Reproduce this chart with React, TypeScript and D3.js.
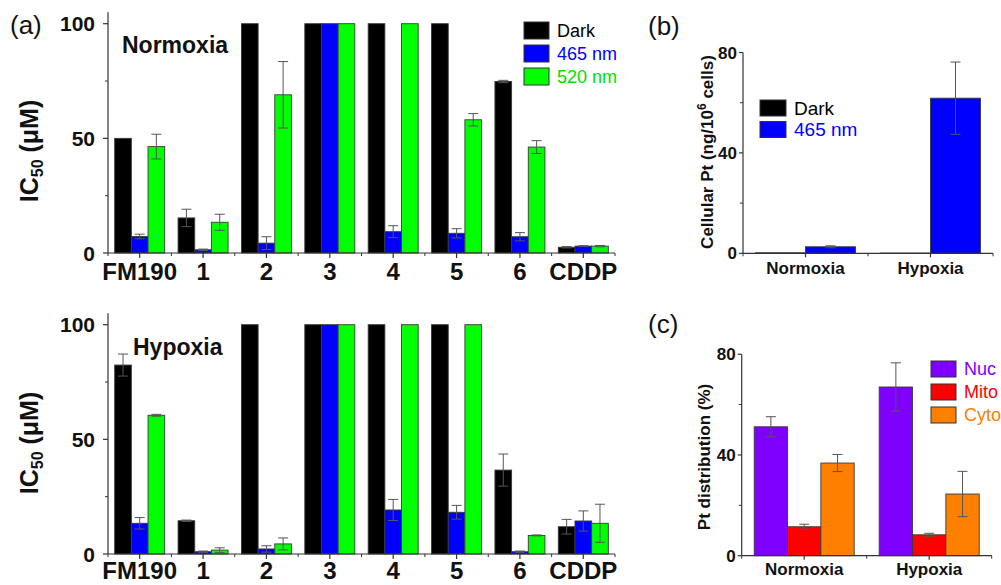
import React from "react";
import * as d3 from "d3";

// ---------- Panel (a) data ----------
const compounds = ["FM190", "1", "2", "3", "4", "5", "6", "CDDP"];
const lightSeries = ["Dark", "465 nm", "520 nm"];
const lightColors = ["#000000", "#0000ff", "#00ff00"];
const lightTextColors = ["#000000", "#0000ff", "#00e000"];

const normDark = [50, 15.3, 100, 100, 100, 100, 74.8, 2.5];
const normDarkErr = [0, 3.8, 0, 0, 0, 0, 0.5, 0.3];
const norm465 = [7.2, 1.4, 4.3, 100, 9.3, 8.6, 7.1, 3.0];
const norm465Err = [1.0, 0.3, 2.8, 0, 2.6, 2.0, 1.8, 0.2];
const norm520 = [46.4, 13.4, 69, 100, 100, 58.1, 46.2, 3.0];
const norm520Err = [5.4, 3.5, 14.5, 0, 0, 2.7, 2.8, 0.3];

const hypDark = [82.4, 14.5, 100, 100, 100, 100, 36.6, 11.9];
const hypDarkErr = [4.8, 0.3, 0, 0, 0, 0, 7.0, 3.2];
const hyp465 = [13.4, 1.0, 2.2, 100, 19.2, 18.2, 1.0, 14.4];
const hyp465Err = [2.5, 0.3, 1.4, 0, 4.6, 3.0, 0.3, 4.4];
const hyp520 = [60.5, 1.7, 4.4, 100, 100, 100, 8.1, 13.4];
const hyp520Err = [0.4, 1.0, 2.6, 0, 0, 0, 0.2, 8.3];

const icTicksMajor = [0, 50, 100];
const icTicksMinor = [25, 75];

// ---------- Panel (b) data ----------
const conditions = ["Normoxia", "Hypoxia"];
const uptakeSeries = ["Dark", "465 nm"];
const uptakeColors = ["#000000", "#0000ff"];
const uptakeDark = [0.2, 0.1];
const uptakeDarkErr = [0, 0];
const uptake465 = [2.6, 61.8];
const uptake465Err = [0.4, 14.4];

// ---------- Panel (c) data ----------
const fractions = ["Nuc", "Mito", "Cyto"];
const fractionColors = ["#8000ff", "#ff0000", "#ff8000"];
const distNuc = [51.2, 67.0];
const distNucErr = [4.0, 9.6];
const distMito = [11.5, 8.3];
const distMitoErr = [1.0, 0.6];
const distCyto = [36.8, 24.5];
const distCytoErr = [3.4, 9.0];

const pctTicksMajor = [0, 40, 80];
const pctTicksMinor = [20, 60];

const FONT = "'Liberation Sans', Arial, Helvetica, sans-serif";
const AXIS = "#333";
const ERR = "#555";

type PanelProps = {
  categories: string[];
  series: string[];
  colors: string[];
  values: number[][];
  errors: number[][];
  x0: number;
  x1: number;
  y0: number; // pixel at value 0
  pxPerUnit: number;
  yMax: number; // axis top value
  groupWidth: number;
  majorTicks: number[];
  minorTicks: number[];
  tickFont: number;
  tickLabelGap: number;
  catFont: number;
  catBaseline: number;
  majorLen: number;
  minorLen: number;
};

function BarPanel(p: PanelProps) {
  const x = d3.scaleBand<string>().domain(p.categories).range([p.x0, p.x1]).paddingInner(0).paddingOuter(0);
  const inner = d3
    .scaleBand<string>()
    .domain(p.series)
    .range([-p.groupWidth / 2, p.groupWidth / 2])
    .padding(0);
  const y = d3.scaleLinear().domain([0, p.yMax]).range([p.y0, p.y0 - p.yMax * p.pxPerUnit]);
  const bw = inner.bandwidth();
  const step = x.step();
  const center = (c: string) => (x(c) as number) + step / 2;
  return (
    <g>
      {/* bars */}
      {p.categories.map((c, ci) =>
        p.series.map((s, si) => {
          const v = p.values[si][ci];
          const bx = center(c) + (inner(s) as number);
          return (
            <rect
              key={`b-${ci}-${si}`}
              x={bx}
              y={y(v)}
              width={bw}
              height={Math.max(0, y(0) - y(v))}
              fill={p.colors[si]}
              stroke="#3a3a3a"
              strokeWidth={0.9}
            />
          );
        })
      )}
      {/* error bars */}
      {p.categories.map((c, ci) =>
        p.series.map((s, si) => {
          const v = p.values[si][ci];
          const e = p.errors[si][ci];
          if (!e) return null;
          const cx = center(c) + (inner(s) as number) + bw / 2;
          const hi = y(v + e);
          const lo = y(Math.max(0, v - e));
          return (
            <g key={`e-${ci}-${si}`} stroke={ERR} strokeWidth={1}>
              <line x1={cx} x2={cx} y1={hi} y2={lo} />
              <line x1={cx - 5} x2={cx + 5} y1={hi} y2={hi} />
              <line x1={cx - 5} x2={cx + 5} y1={lo} y2={lo} />
            </g>
          );
        })
      )}
      {/* axes */}
      <line x1={p.x0} x2={p.x0} y1={y(0)} y2={y(p.yMax)} stroke={AXIS} strokeWidth={1.2} />
      <line x1={p.x0} x2={p.x1} y1={y(0)} y2={y(0)} stroke={AXIS} strokeWidth={1.2} />
      {p.majorTicks.map((t) => (
        <g key={`yt-${t}`}>
          <line x1={p.x0 - p.majorLen} x2={p.x0} y1={y(t)} y2={y(t)} stroke={AXIS} strokeWidth={1.2} />
          <text
            x={p.x0 - p.tickLabelGap}
            y={y(t)}
            dy="0.36em"
            textAnchor="end"
            fontFamily={FONT}
            fontWeight="bold"
            fontSize={p.tickFont}
            fill="#111"
          >
            {t}
          </text>
        </g>
      ))}
      {p.minorTicks.map((t) => (
        <line key={`ym-${t}`} x1={p.x0 - p.minorLen} x2={p.x0} y1={y(t)} y2={y(t)} stroke={AXIS} strokeWidth={1} />
      ))}
      {p.categories.map((c) => (
        <g key={`xt-${c}`}>
          <line x1={center(c)} x2={center(c)} y1={y(0)} y2={y(0) + p.majorLen} stroke={AXIS} strokeWidth={1.2} />
          <text
            x={center(c)}
            y={p.catBaseline}
            textAnchor="middle"
            fontFamily={FONT}
            fontWeight="bold"
            fontSize={p.catFont}
            fill="#111"
          >
            {c}
          </text>
        </g>
      ))}
      {[...p.categories.map((c) => x(c) as number), p.x1].map((bx, i) => (
        <line key={`xm-${i}`} x1={bx} x2={bx} y1={y(0)} y2={y(0) + p.minorLen} stroke={AXIS} strokeWidth={1} />
      ))}
    </g>
  );
}

function Legend({
  x,
  y,
  labels,
  colors,
  textColors,
  pitch,
  boxW,
  boxH,
  font,
}: {
  x: number;
  y: number;
  labels: string[];
  colors: string[];
  textColors: string[];
  pitch: number;
  boxW: number;
  boxH: number;
  font: number;
}) {
  return (
    <g>
      {labels.map((l, i) => (
        <g key={l}>
          <rect x={x} y={y + i * pitch} width={boxW} height={boxH} fill={colors[i]} stroke="#333" strokeWidth={1} />
          <text
            x={x + boxW + 8}
            y={y + i * pitch + boxH / 2}
            dy="0.36em"
            fontFamily={FONT}
            fontSize={font}
            fill={textColors[i]}
          >
            {l}
          </text>
        </g>
      ))}
    </g>
  );
}

function ICLabel({ cx, cy }: { cx: number; cy: number }) {
  return (
    <text
      transform={`translate(${cx},${cy}) rotate(-90)`}
      textAnchor="middle"
      fontFamily={FONT}
      fontWeight="bold"
      fontSize={25}
      fill="#111"
    >
      IC
      <tspan fontSize={16} dy={5}>
        50
      </tspan>
      <tspan dy={-5}> (μM)</tspan>
    </text>
  );
}

export default function App() {
  const aCommon = {
    categories: compounds,
    series: lightSeries,
    colors: lightColors,
    x0: 108,
    x1: 615,
    pxPerUnit: 2.293,
    yMax: 105,
    groupWidth: 50,
    majorTicks: icTicksMajor,
    minorTicks: icTicksMinor,
    tickFont: 21,
    tickLabelGap: 13,
    catFont: 24,
    majorLen: 5,
    minorLen: 3,
  };
  const bcCommon = {
    categories: conditions,
    x0: 743,
    x1: 993,
    pxPerUnit: 2.51,
    yMax: 80,
    groupWidth: 100,
    majorTicks: pctTicksMajor,
    minorTicks: pctTicksMinor,
    tickFont: 17,
    tickLabelGap: 6,
    catFont: 17,
    majorLen: 4,
    minorLen: 3,
  };
  return (
    <svg
      width={1001}
      height={585}
      viewBox="0 0 1001 585"
      style={{ position: "absolute", left: 0, top: 0, background: "#fff" }}
    >
      <rect width={1001} height={585} fill="#fff" />
      {/* Panel (a) top: Normoxia */}
      <BarPanel
        {...aCommon}
        values={[normDark, norm465, norm520]}
        errors={[normDarkErr, norm465Err, norm520Err]}
        y0={253}
        catBaseline={280}
      />
      {/* Panel (a) bottom: Hypoxia */}
      <BarPanel
        {...aCommon}
        values={[hypDark, hyp465, hyp520]}
        errors={[hypDarkErr, hyp465Err, hyp520Err]}
        y0={554}
        catBaseline={579}
      />
      <text x={10} y={34} fontFamily={FONT} fontSize={26} fill="#111">
        (a)
      </text>
      <text x={122} y={53} fontFamily={FONT} fontWeight="bold" fontSize={23} fill="#111">
        Normoxia
      </text>
      <text x={133} y={355} fontFamily={FONT} fontWeight="bold" fontSize={23} fill="#111">
        Hypoxia
      </text>
      <ICLabel cx={38} cy={151} />
      <ICLabel cx={38} cy={443} />
      <Legend
        x={524}
        y={22}
        labels={lightSeries}
        colors={lightColors}
        textColors={lightTextColors}
        pitch={23}
        boxW={25}
        boxH={17}
        font={18}
      />

      {/* Panel (b) */}
      <BarPanel
        {...bcCommon}
        series={uptakeSeries}
        colors={uptakeColors}
        values={[uptakeDark, uptake465]}
        errors={[uptakeDarkErr, uptake465Err]}
        y0={253.3}
        catBaseline={274}
      />
      <text x={648} y={35} fontFamily={FONT} fontSize={26} fill="#111">
        (b)
      </text>
      <text
        transform="translate(713,152) rotate(-90)"
        textAnchor="middle"
        fontFamily={FONT}
        fontWeight="bold"
        fontSize={17}
        fill="#111"
      >
        Cellular Pt (ng/10
        <tspan fontSize={12} dy={-7}>
          6
        </tspan>
        <tspan dy={7}> cells)</tspan>
      </text>
      <Legend
        x={760}
        y={100}
        labels={uptakeSeries}
        colors={uptakeColors}
        textColors={uptakeColors}
        pitch={21.5}
        boxW={26}
        boxH={16}
        font={19}
      />

      {/* Panel (c) */}
      <BarPanel
        {...bcCommon}
        x0={741.7}
        x1={991.7}
        series={fractions}
        colors={fractionColors}
        values={[distNuc, distMito, distCyto]}
        errors={[distNucErr, distMitoErr, distCytoErr]}
        y0={555.7}
        pxPerUnit={2.518}
        catBaseline={575}
      />
      <text x={648} y={333} fontFamily={FONT} fontSize={26} fill="#111">
        (c)
      </text>
      <text
        transform="translate(710,457) rotate(-90)"
        textAnchor="middle"
        fontFamily={FONT}
        fontWeight="bold"
        fontSize={17}
        fill="#111"
      >
        Pt distribution (%)
      </text>
      <Legend
        x={931}
        y={361}
        labels={fractions}
        colors={fractionColors}
        textColors={fractionColors}
        pitch={23}
        boxW={25}
        boxH={16}
        font={18}
      />
    </svg>
  );
}
